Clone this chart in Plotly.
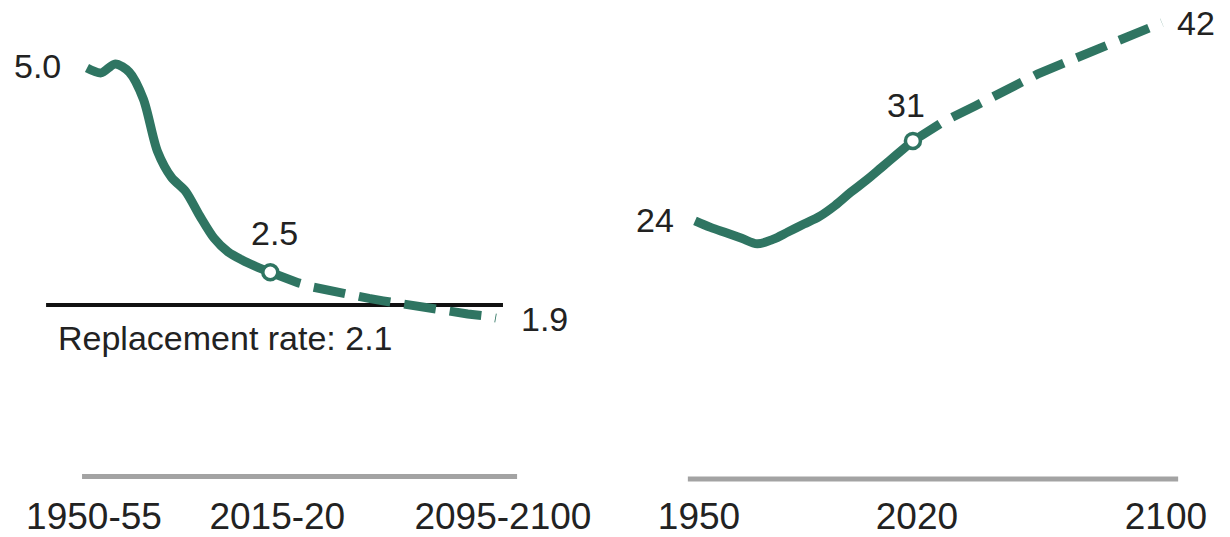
import plotly.graph_objects as go

# Left panel: fertility rate by five-year period
PERIODS = [
    "1950-55", "1955-60", "1960-65", "1965-70", "1970-75", "1975-80",
    "1980-85", "1985-90", "1990-95", "1995-2000", "2000-05", "2005-10",
    "2010-15", "2015-20", "2020-25", "2025-30", "2030-35", "2035-40",
    "2040-45", "2045-50", "2050-55", "2055-60", "2060-65", "2065-70",
    "2070-75", "2075-80", "2080-85", "2085-90", "2090-95", "2095-2100",
]
FERT_HIST = [5.00, 4.94, 5.05, 4.95, 4.62, 3.98, 3.66, 3.49, 3.19, 2.92,
             2.75, 2.65, 2.57, 2.50]
FERT_PROJ = [2.50, 2.43, 2.37, 2.32, 2.28, 2.24, 2.21, 2.18, 2.15, 2.12,
             2.09, 2.07, 2.04, 2.02, 1.99, 1.97, 1.94]
REPLACEMENT = 2.1
FERT_TICKS = ["1950-55", "2015-20", "2095-2100"]

# Right panel: median age
YEARS_HIST = [1950, 1955, 1960, 1965, 1970, 1975, 1980, 1985, 1990, 1995,
              2000, 2005, 2010, 2015, 2020]
AGE_HIST = [23.6, 23.0, 22.5, 22.0, 21.5, 21.9, 22.6, 23.3, 24.0, 25.0,
            26.2, 27.3, 28.5, 29.7, 30.9]
YEARS_PROJ = [2020, 2030, 2040, 2050, 2060, 2070, 2080, 2090, 2100]
AGE_PROJ = [30.9, 32.7, 34.1, 35.6, 37.0, 38.2, 39.4, 40.6, 41.7]
AGE_TICKS = [1950, 2020, 2100]

GREEN = "#2f7562"
FONT = "Liberation Sans, Arial, sans-serif"
TXT = "#222222"

# page body has an 8px margin, so the figure is 8px smaller than the window
W, H = 1222, 529


def main():
    n_hist = len(FERT_HIST)
    fig = go.Figure()

    # fertility
    fig.add_trace(go.Scatter(
        x=PERIODS[:n_hist], y=FERT_HIST, mode="lines",
        line=dict(color=GREEN, width=9, shape="spline", smoothing=0.8),
        xaxis="x", yaxis="y", hoverinfo="skip"))
    fig.add_trace(go.Scatter(
        x=PERIODS[n_hist - 1:], y=FERT_PROJ, mode="lines",
        line=dict(color=GREEN, width=9, dash="32px,14px"),
        xaxis="x", yaxis="y", hoverinfo="skip"))
    fig.add_trace(go.Scatter(
        x=[PERIODS[n_hist - 1]], y=[FERT_HIST[-1]], mode="markers",
        marker=dict(size=15, color="white", line=dict(color=GREEN, width=3.5)),
        xaxis="x", yaxis="y", hoverinfo="skip"))

    # median age
    fig.add_trace(go.Scatter(
        x=YEARS_HIST, y=AGE_HIST, mode="lines",
        line=dict(color=GREEN, width=9, shape="spline", smoothing=1),
        xaxis="x2", yaxis="y2", hoverinfo="skip"))
    fig.add_trace(go.Scatter(
        x=YEARS_PROJ, y=AGE_PROJ, mode="lines",
        line=dict(color=GREEN, width=9, dash="32px,14px"),
        xaxis="x2", yaxis="y2", hoverinfo="skip"))
    fig.add_trace(go.Scatter(
        x=[YEARS_HIST[-1]], y=[AGE_HIST[-1]], mode="markers",
        marker=dict(size=15, color="white", line=dict(color=GREEN, width=3.5)),
        xaxis="x2", yaxis="y2", hoverinfo="skip"))

    last = len(PERIODS) - 1
    shapes = [
        # replacement rate line
        dict(type="line", xref="x", yref="y", x0=-2.9, x1=last + 0.5,
             y0=REPLACEMENT, y1=REPLACEMENT,
             line=dict(color="#111111", width=4), layer="below"),
        # baselines
        dict(type="line", xref="x", yref="y", x0=-0.35, x1=last + 1.5,
             y0=0, y1=0, line=dict(color="#a3a3a3", width=5)),
        dict(type="line", xref="x2", yref="y2", x0=1947.7, x1=2105.2,
             y0=0, y1=0, line=dict(color="#a3a3a3", width=5)),
    ]

    def label(text, x, y, xref, yref, xanchor="center", xshift=0, yshift=0):
        return dict(text=text, x=x, y=y, xref=xref, yref=yref,
                    xanchor=xanchor, yanchor="middle", showarrow=False,
                    xshift=xshift, yshift=yshift, borderpad=0,
                    font=dict(family=FONT, size=34, color=TXT))

    annotations = [
        label(f"{FERT_HIST[0]:.1f}", PERIODS[0], FERT_HIST[0], "x", "y",
              "right", -25, 2),
        label(f"{FERT_HIST[-1]:.1f}", PERIODS[n_hist - 1], FERT_HIST[-1],
              "x", "y", "center", 4, 39),
        label(f"{FERT_PROJ[-1]:.1f}", PERIODS[-1], FERT_PROJ[-1], "x", "y",
              "left", 24, -1),
        label(f"Replacement rate: {REPLACEMENT}", -2.9, REPLACEMENT, "x", "y",
              "left", 11, -33),
        label(f"{AGE_HIST[0]:.0f}", YEARS_HIST[0], AGE_HIST[0], "x2", "y2",
              "right", -20, 1),
        label(f"{AGE_HIST[-1]:.0f}", YEARS_HIST[-1], AGE_HIST[-1], "x2", "y2",
              "center", -7, 36),
        label(f"{AGE_PROJ[-1]:.0f}", YEARS_PROJ[-1], AGE_PROJ[-1], "x2", "y2",
              "left", 14, 0),
    ]

    axis_common = dict(showgrid=False, zeroline=False, showline=False,
                       ticks="", fixedrange=True, automargin=False,
                       tickfont=dict(family=FONT, size=37, color=TXT))

    split = 592 / W
    ydom = [1 - 482 / H, 1]

    fig.update_layout(
        width=W, height=H,
        margin=dict(l=0, r=0, t=0, b=0),
        plot_bgcolor="white", paper_bgcolor="white",
        showlegend=False,
        shapes=shapes, annotations=annotations,
        xaxis=dict(domain=[0, split], range=[-5.60, 36.38],
                   type="category", categoryorder="array",
                   categoryarray=PERIODS, tickvals=FERT_TICKS,
                   ticklabelstandoff=1, ticklabelshift=7, anchor="y",
                   **axis_common),
        yaxis=dict(domain=ydom, range=[-0.164, 5.734],
                   showticklabels=False, anchor="x", **axis_common),
        xaxis2=dict(domain=[split, 1], range=[1919.48, 2121.86],
                    tickvals=AGE_TICKS, ticklabelstandoff=1, ticklabelshift=4,
                    anchor="y2", **axis_common),
        yaxis2=dict(domain=ydom, range=[-1.005, 43.05],
                    showticklabels=False, anchor="x2", **axis_common),
    )

    fig.write_html("out.html")


if __name__ == "__main__":
    main()
